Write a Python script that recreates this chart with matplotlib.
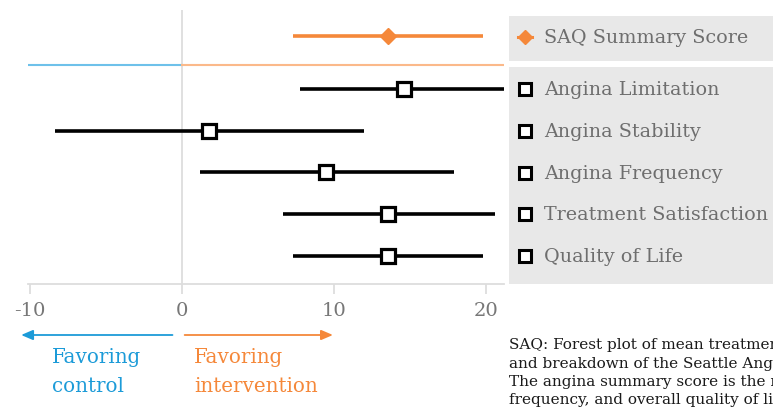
import matplotlib
matplotlib.use("Agg")
import matplotlib.pyplot as plt
from matplotlib.patches import Rectangle
from matplotlib.lines import Line2D
from matplotlib.transforms import blended_transform_factory

# Mean treatment differences with 95% CI
summary_label = "SAQ Summary Score"
summary_mean = 13.6
summary_lo = 7.3
summary_hi = 19.85

subscales = ["Angina Limitation", "Angina Stability", "Angina Frequency",
             "Treatment Satisfaction", "Quality of Life"]
sub_means = [14.6, 1.8, 9.5, 13.6, 13.6]
sub_lo = [7.8, -8.3, 1.2, 6.7, 7.3]
sub_hi = [21.5, 12.0, 17.9, 20.6, 19.85]

xticks = [-10, 0, 10, 20]
xtick_labels = ["-10", "0", "10", "20"]

caption = ("SAQ: Forest plot of mean treatment differences (95% CI) in the summary score\n"
           "and breakdown of the Seattle Angina Questionnaire (SAQ) subscales.\n"
           "The angina summary score is the mean of the angina limitation,\n"
           "frequency, and overall quality of life scores.")

ORANGE = "#f5883a"
BLUE = "#1c9bd8"
GRAY_TXT = "#6e6e6e"
GRID = "#dddddd"
PANEL = "#e8e8e8"
SERIF = ["DejaVu Serif"]

W, H = 773, 414
fig = plt.figure(figsize=(W / 100, H / 100), dpi=100)

def fx(px):
    return px / W

def fy(py):
    return 1 - py / H

ax_left, ax_right, ax_top, ax_bot = 28, 504, 11, 285
ax = fig.add_axes([fx(ax_left), fy(ax_bot), fx(ax_right - ax_left), (ax_bot - ax_top) / H])

ax.set_xlim(-10.1, 21.2)
ax.set_ylim(4.67, -1.89)

# zero reference line
ax.axvline(0, color=GRID, lw=1.3, zorder=0)

# separator between summary and subscales
sep_y = -0.575
ax.plot([-10.1, 0], [sep_y, sep_y], color="#6ec1ea", lw=1.5, zorder=1)
ax.plot([0, 21.2], [sep_y, sep_y], color="#fbb98a", lw=1.5, zorder=1)

# summary row
sum_y = -1.27
ax.plot([summary_lo, summary_hi], [sum_y, sum_y], color=ORANGE, lw=2.6, solid_capstyle="butt", zorder=2)
ax.plot([summary_mean], [sum_y], marker="D", ms=8.5, color=ORANGE, mec=ORANGE, zorder=3)

# subscale rows
for i, (m, lo, hi) in enumerate(zip(sub_means, sub_lo, sub_hi)):
    ax.plot([lo, hi], [i, i], color="black", lw=2.6, solid_capstyle="butt", zorder=2)
    ax.plot([m], [i], marker="s", ms=9.5, mfc="white", mec="black", mew=2.3, zorder=3)

for s in ["top", "right", "left"]:
    ax.spines[s].set_visible(False)
ax.spines["bottom"].set_color(GRID)
ax.spines["bottom"].set_linewidth(1.3)
ax.set_yticks([])
ax.set_xticks(xticks)
ax.set_xticklabels(xtick_labels, fontfamily=SERIF, fontsize=14, color="#777777")
ax.tick_params(axis="x", length=7.5, width=1.3, color=GRID, pad=5)

# legend panels
fig.patches.append(Rectangle((fx(509), fy(62)), fx(W - 509), (62 - 17) / H,
                             transform=fig.transFigure, facecolor=PANEL, edgecolor="none", zorder=0))
fig.patches.append(Rectangle((fx(509), fy(285)), fx(W - 509), (285 - 68) / H,
                             transform=fig.transFigure, facecolor=PANEL, edgecolor="none", zorder=0))

leg_fs = 13.8
fig.add_artist(Line2D([fx(518), fx(532)], [fy(38), fy(38)], transform=fig.transFigure,
                      color=ORANGE, lw=2.2))
fig.add_artist(Line2D([fx(525)], [fy(38)], transform=fig.transFigure, marker="D",
                      ms=7, color=ORANGE, mec=ORANGE))
fig.text(fx(544), fy(38), summary_label, fontfamily=SERIF, fontsize=leg_fs, color=GRAY_TXT,
         va="center", ha="left")

row_px = [90, 132, 174, 215, 257]
for name, py in zip(subscales, row_px):
    fig.add_artist(Line2D([fx(525)], [fy(py)], transform=fig.transFigure, marker="s",
                          ms=8, mfc="white", mec="black", mew=2.2))
    fig.text(fx(544), fy(py), name, fontfamily=SERIF, fontsize=leg_fs, color=GRAY_TXT,
             va="center", ha="left")

# direction arrows under the axis
bt = blended_transform_factory(ax.transData, fig.transFigure)
arr_y = fy(336)
ax.annotate("", xy=(-10.55, arr_y), xytext=(-0.6, arr_y), xycoords=bt, textcoords=bt,
            arrowprops=dict(arrowstyle="-|>,head_length=0.7,head_width=0.3", color=BLUE, lw=1.3,
                            shrinkA=0, shrinkB=0), annotation_clip=False)
ax.annotate("", xy=(9.95, arr_y), xytext=(0.2, arr_y), xycoords=bt, textcoords=bt,
            arrowprops=dict(arrowstyle="-|>,head_length=0.7,head_width=0.3", color=ORANGE, lw=1.3,
                            shrinkA=0, shrinkB=0), annotation_clip=False)

fig.text(fx(52), fy(372), "Favoring\ncontrol", fontfamily=SERIF, fontsize=14.3, color=BLUE,
         va="center", ha="left", linespacing=1.65)
fig.text(fx(194), fy(372), "Favoring\nintervention", fontfamily=SERIF, fontsize=14.3, color=ORANGE,
         va="center", ha="left", linespacing=1.65)

fig.text(fx(509), fy(338), caption, fontfamily=SERIF, fontsize=11, color="#1a1a1a",
         va="top", ha="left", linespacing=1.37)

fig.savefig("out.png", dpi=100)
